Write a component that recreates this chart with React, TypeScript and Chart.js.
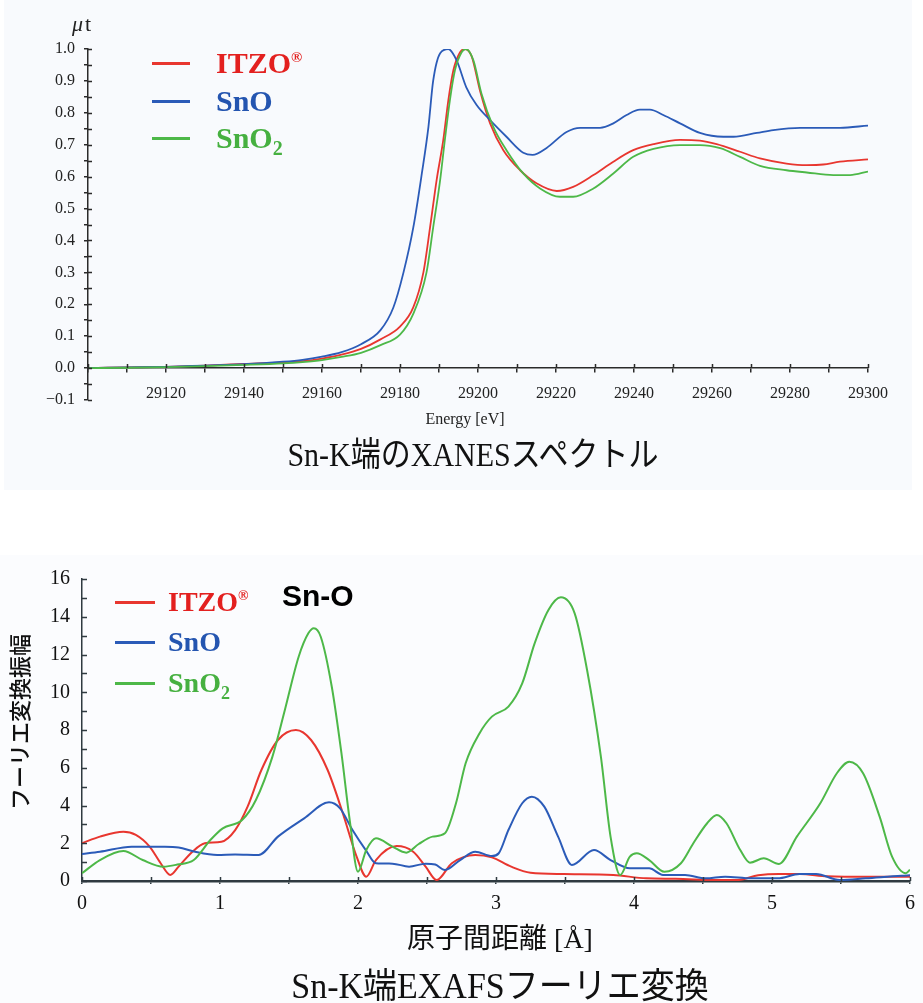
import React, { useEffect, useRef } from 'react';
import { Chart, registerables } from 'chart.js';

Chart.register(...registerables);

// ---------- XANES (Sn-K edge) : [energy eV, μt] ----------
const xanesITZO: [number, number][] = [
  [29100, 0.0], [29110, 0.002], [29120, 0.004], [29130, 0.008], [29140, 0.013], [29150, 0.018],
  [29155, 0.022], [29160, 0.03], [29165, 0.042], [29170, 0.06], [29175, 0.09], [29180, 0.13],
  [29183.4, 0.19], [29186, 0.3], [29187.7, 0.44], [29189.4, 0.59], [29191.1, 0.715], [29192.4, 0.84],
  [29193.7, 0.934], [29195.4, 0.99], [29196.7, 1.0], [29198.4, 0.976], [29200.5, 0.87], [29203.1, 0.767],
  [29206.5, 0.683], [29210.8, 0.62], [29215, 0.579], [29220.2, 0.555], [29224.4, 0.568], [29229.6, 0.605],
  [29234.7, 0.647], [29239.8, 0.683], [29245, 0.702], [29251.8, 0.715], [29256.9, 0.713], [29261.2, 0.702],
  [29267.2, 0.678], [29272.3, 0.657], [29279.1, 0.641], [29284.3, 0.636], [29288.5, 0.638], [29292.8, 0.647],
  [29300, 0.654],
];
const xanesSnO: [number, number][] = [
  [29100, 0.0], [29110, 0.002], [29120, 0.004], [29130, 0.008], [29140, 0.012], [29150, 0.02],
  [29155, 0.026], [29160, 0.036], [29165, 0.05], [29170, 0.075], [29175, 0.119], [29178.3, 0.19],
  [29180.9, 0.3], [29183.4, 0.44], [29185.6, 0.61], [29187.3, 0.757], [29188.5, 0.9], [29190.3, 0.987],
  [29192.4, 1.0], [29194.5, 0.965], [29197, 0.88], [29199.6, 0.825], [29203.1, 0.777], [29207.3, 0.725],
  [29211.6, 0.675], [29214, 0.668], [29217.6, 0.69], [29222.7, 0.74], [29226.2, 0.753], [29231.3, 0.753],
  [29234.7, 0.767], [29238.1, 0.793], [29241.5, 0.81], [29244.1, 0.81], [29247.5, 0.793], [29251.8, 0.767],
  [29256.9, 0.737], [29262.9, 0.725], [29265.5, 0.725], [29271.5, 0.737], [29275.7, 0.746], [29282.6, 0.753],
  [29292.8, 0.753], [29300, 0.76],
];
const xanesSnO2: [number, number][] = [
  [29100, 0.0], [29110, 0.001], [29120, 0.003], [29130, 0.006], [29140, 0.01], [29150, 0.015],
  [29155, 0.019], [29160, 0.025], [29165, 0.035], [29170, 0.048], [29175, 0.072], [29180, 0.105],
  [29183.4, 0.17], [29186.8, 0.3], [29188.5, 0.44], [29190.3, 0.59], [29191.5, 0.715], [29192.8, 0.84],
  [29194.1, 0.934], [29195.8, 0.99], [29196.9, 1.0], [29198.8, 0.965], [29200.9, 0.86], [29203.9, 0.757],
  [29207.3, 0.683], [29211.6, 0.61], [29215.9, 0.563], [29221, 0.537], [29224.4, 0.537], [29229.6, 0.563],
  [29234.7, 0.61], [29239.8, 0.662], [29245, 0.687], [29251.8, 0.699], [29256.9, 0.699], [29262.1, 0.689],
  [29267.2, 0.662], [29272.3, 0.634], [29279.1, 0.62], [29284.3, 0.613], [29291.1, 0.605], [29295.4, 0.605],
  [29300, 0.616],
];

// ---------- EXAFS Fourier transform : [distance Å, amplitude] ----------
const exafsITZO: [number, number][] = [
  [0, 2.0], [0.13, 2.35], [0.3, 2.61], [0.39, 2.44], [0.49, 1.82], [0.57, 0.94], [0.64, 0.32],
  [0.7, 0.76], [0.8, 1.55], [0.89, 2.0], [1.01, 2.08], [1.11, 2.7], [1.2, 3.94], [1.3, 5.88],
  [1.42, 7.47], [1.55, 8.0], [1.66, 7.47], [1.78, 5.88], [1.89, 3.59], [1.99, 1.29], [2.06, 0.23],
  [2.13, 1.11], [2.28, 1.85], [2.4, 1.55], [2.49, 0.76], [2.57, 0.05], [2.68, 0.94], [2.85, 1.38],
  [2.97, 1.25], [3.11, 0.76], [3.25, 0.44], [3.49, 0.37], [3.85, 0.32], [4.09, 0.14], [4.3, 0.12],
  [4.6, 0.05], [4.75, 0.05], [4.9, 0.3], [5.05, 0.37], [5.2, 0.37], [5.4, 0.25], [5.7, 0.22], [6.0, 0.23],
];
const exafsSnO: [number, number][] = [
  [0, 1.43], [0.13, 1.55], [0.36, 1.82], [0.6, 1.82], [0.7, 1.78], [0.82, 1.55], [0.98, 1.38],
  [1.11, 1.41], [1.28, 1.38], [1.42, 2.35], [1.61, 3.32], [1.79, 4.17], [1.87, 3.85], [1.96, 2.7],
  [2.06, 1.6], [2.13, 0.94], [2.25, 0.92], [2.37, 0.76], [2.49, 0.92], [2.56, 0.87], [2.63, 0.58],
  [2.74, 1.11], [2.85, 1.55], [2.97, 1.32], [3.02, 1.47], [3.09, 2.7], [3.19, 4.12], [3.26, 4.47],
  [3.35, 3.94], [3.45, 2.35], [3.55, 0.85], [3.71, 1.64], [3.83, 1.11], [3.97, 0.67], [4.11, 0.67],
  [4.21, 0.32], [4.37, 0.32], [4.52, 0.14], [4.66, 0.23], [4.85, 0.14], [5.04, 0.14], [5.2, 0.37],
  [5.32, 0.37], [5.49, 0.05], [5.68, 0.14], [5.94, 0.28], [6.0, 0.3],
];
const exafsSnO2: [number, number][] = [
  [0, 0.41], [0.13, 1.11], [0.3, 1.59], [0.44, 1.11], [0.59, 0.76], [0.69, 0.87], [0.81, 1.11],
  [0.93, 2.17], [1.02, 2.79], [1.16, 3.23], [1.26, 4.29], [1.38, 6.59], [1.47, 9.06], [1.57, 11.88],
  [1.64, 13.12], [1.68, 13.39], [1.73, 12.94], [1.81, 10.29], [1.88, 6.77], [1.94, 3.23], [2.0, 0.49],
  [2.06, 1.64], [2.13, 2.26], [2.25, 1.82], [2.35, 1.5], [2.44, 1.96], [2.54, 2.35], [2.63, 2.53],
  [2.71, 4.12], [2.78, 6.24], [2.88, 7.82], [2.97, 8.71], [3.09, 9.24], [3.19, 10.47], [3.28, 12.59],
  [3.38, 14.36], [3.47, 15.03], [3.57, 14.18], [3.66, 11.18], [3.76, 6.59], [3.83, 2.35], [3.9, 0.32],
  [3.97, 1.29], [4.02, 1.47], [4.11, 1.11], [4.22, 0.49], [4.34, 0.94], [4.43, 2.0], [4.53, 3.06],
  [4.6, 3.5], [4.67, 3.06], [4.77, 1.64], [4.84, 0.97], [4.94, 1.2], [5.05, 0.9], [5.18, 2.35],
  [5.35, 4.12], [5.47, 5.71], [5.56, 6.32], [5.66, 5.71], [5.78, 3.41], [5.87, 1.29], [5.97, 0.41],
  [6.0, 0.6],
];

// ---------- tick labels ----------
const xanesXLabels = [29120, 29140, 29160, 29180, 29200, 29220, 29240, 29260, 29280, 29300];
const xanesYLabels = [-0.1, 0.0, 0.1, 0.2, 0.3, 0.4, 0.5, 0.6, 0.7, 0.8, 0.9, 1.0];
const exafsXLabels = [0, 1, 2, 3, 4, 5, 6];
const exafsYLabels = [0, 2, 4, 6, 8, 10, 12, 14, 16];

const COLORS = { itzo: '#e8362f', sno: '#2b5bb8', sno2: '#4db848' };
const TEXT_COLORS = { itzo: '#e3201f', sno: '#2455b0', sno2: '#46b040' };
const AXIS = '#2a2a2a';
const SERIF = "'Liberation Serif', 'Times New Roman', serif";
const MIXED = "'Liberation Serif', 'Noto Sans CJK JP', serif";

const near = (list: number[], v: number) => list.some((l) => Math.abs(l - v) < 1e-6);

const innerTicks = {
  id: 'innerTicks',
  afterDatasetsDraw(chart: any, _args: any, opts: any) {
    const { ctx, chartArea, scales } = chart;
    const xs = scales.x;
    const ys = scales.y;
    ctx.save();
    ctx.strokeStyle = opts.color;
    ctx.lineWidth = opts.width;
    const axisY = opts.xAxisAtZero ? ys.getPixelForValue(0) : chartArea.bottom;
    ctx.beginPath();
    for (const t of ys.ticks) {
      const py = Math.round(ys.getPixelForValue(t.value)) + 0.5;
      ctx.moveTo(chartArea.left, py);
      ctx.lineTo(chartArea.left + opts.yLen, py);
    }
    for (const t of xs.ticks) {
      const px = Math.round(xs.getPixelForValue(t.value)) + 0.5;
      ctx.moveTo(px, axisY);
      ctx.lineTo(px, axisY - opts.xLen);
    }
    ctx.stroke();
    ctx.restore();
  },
};

const toXY = (arr: [number, number][]) => arr.map(([x, y]) => ({ x, y }));
const ds = (data: [number, number][], color: string, width: number) => ({
  data: toXY(data),
  borderColor: color,
  backgroundColor: color,
  borderWidth: width,
  pointRadius: 0,
  fill: false,
  cubicInterpolationMode: 'monotone' as const,
});

function LegendRow({ top, left, lineLeft, lineWidth, color, textColor, size, children }: any) {
  return (
    <>
      <div style={{ position: 'absolute', left: lineLeft, top: top - 1.5, width: lineWidth, height: 3, background: color }} />
      <div
        style={{
          position: 'absolute', left, top: top - size * 0.6, height: size * 1.2, lineHeight: `${size * 1.2}px`,
          fontFamily: SERIF, fontWeight: 'bold', fontSize: size, color: textColor, whiteSpace: 'nowrap',
        }}
      >
        {children}
      </div>
    </>
  );
}

export default function App() {
  const xanesRef = useRef<HTMLCanvasElement>(null);
  const exafsRef = useRef<HTMLCanvasElement>(null);

  useEffect(() => {
    const c1 = new Chart(xanesRef.current!, {
      type: 'line',
      data: {
        datasets: [
          ds(xanesSnO2, COLORS.sno2, 1.8),
          ds(xanesSnO, COLORS.sno, 1.8),
          ds(xanesITZO, COLORS.itzo, 1.8),
        ],
      },
      plugins: [innerTicks],
      options: {
        responsive: false,
        animation: false,
        events: [],
        layout: { autoPadding: false, padding: { top: 49, right: 55, bottom: 90, left: 0 } },
        plugins: {
          legend: { display: false },
          tooltip: { enabled: false },
          innerTicks: { color: AXIS, width: 1.5, yLen: 4, xLen: 4, xAxisAtZero: true },
        } as any,
        scales: {
          x: {
            type: 'linear',
            position: { y: 0 } as any,
            min: 29100,
            max: 29300,
            afterFit: (s: any) => { s.height = 0; },
            border: { display: true, color: AXIS, width: 1.5 },
            grid: { display: true, drawOnChartArea: false, drawTicks: true, tickLength: 4, color: AXIS, lineWidth: 1.5 },
            ticks: {
              stepSize: 10,
              maxTicksLimit: 1000,
              autoSkip: false,
              maxRotation: 0,
              padding: 12,
              color: '#222',
              font: { family: SERIF, size: 16 },
              callback: (v: any) => (near(xanesXLabels, Number(v)) ? String(v) : ''),
            },
          },
          y: {
            type: 'linear',
            min: -0.1,
            max: 1.0,
            afterFit: (s: any) => { s.width = 88; },
            border: { display: true, color: AXIS, width: 1.5 },
            grid: { display: true, drawOnChartArea: false, drawTicks: true, tickLength: 4, color: AXIS, lineWidth: 1.5 },
            ticks: {
              stepSize: 0.05,
              maxTicksLimit: 1000,
              autoSkip: false,
              padding: 9,
              color: '#222',
              font: { family: SERIF, size: 16 },
              callback: (v: any) => {
                const n = Number(v);
                if (!near(xanesYLabels, n)) return '';
                const s = Math.abs(n).toFixed(1);
                return n < -1e-9 ? '\u2212' + s : s;
              },
            },
          },
        },
      },
    });

    const c2 = new Chart(exafsRef.current!, {
      type: 'line',
      data: {
        datasets: [
          ds(exafsSnO2, COLORS.sno2, 2),
          ds(exafsSnO, COLORS.sno, 2),
          ds(exafsITZO, COLORS.itzo, 2),
        ],
      },
      plugins: [innerTicks],
      options: {
        responsive: false,
        animation: false,
        events: [],
        layout: { autoPadding: false, padding: { top: 24, right: 3, bottom: 0, left: 0 } },
        plugins: {
          legend: { display: false },
          tooltip: { enabled: false },
          innerTicks: { color: '#2f3a40', width: 1.5, yLen: 5, xLen: 4, xAxisAtZero: false },
        } as any,
        scales: {
          x: {
            type: 'linear',
            position: 'bottom',
            min: 0,
            max: 6,
            afterFit: (s: any) => { s.height = 122; },
            border: { display: true, color: '#2f3a40', width: 2.5 },
            grid: { display: true, drawOnChartArea: false, drawTicks: true, tickLength: 3, color: '#2f3a40', lineWidth: 1.5 },
            ticks: {
              stepSize: 0.5,
              maxTicksLimit: 1000,
              autoSkip: false,
              maxRotation: 0,
              padding: 8,
              color: '#111',
              font: { family: SERIF, size: 20 },
              callback: (v: any) => (near(exafsXLabels, Number(v)) ? String(v) : ''),
            },
          },
          y: {
            type: 'linear',
            min: 0,
            max: 16,
            afterFit: (s: any) => { s.width = 82; },
            border: { display: true, color: '#2f3a40', width: 1.5 },
            grid: { display: false, drawOnChartArea: false, drawTicks: false },
            ticks: {
              stepSize: 1,
              maxTicksLimit: 1000,
              autoSkip: false,
              padding: 12,
              color: '#111',
              font: { family: SERIF, size: 20 },
              callback: (v: any) => (near(exafsYLabels, Number(v)) ? String(v) : ''),
            },
          },
        },
      },
    });

    return () => {
      c1.destroy();
      c2.destroy();
    };
  }, []);

  return (
    <div style={{ position: 'absolute', left: 0, top: 0, width: 923, height: 1003, background: '#ffffff', overflow: 'hidden' }}>
      <div style={{ position: 'absolute', left: 4, top: 0, width: 908, height: 490, background: '#f8fafd' }} />
      <div style={{ position: 'absolute', left: 0, top: 555, width: 923, height: 448, background: '#fbfcfe' }} />
      <canvas ref={xanesRef} width={923} height={490} style={{ position: 'absolute', left: 0, top: 0 }} />
      <canvas ref={exafsRef} width={923} height={448} style={{ position: 'absolute', left: 0, top: 555 }} />

      {/* XANES annotations */}
      <div style={{ position: 'absolute', left: 72, top: 11, fontFamily: SERIF, fontSize: 22, color: '#222', lineHeight: '26px', whiteSpace: 'nowrap' }}>
        <i>μ</i>&#8202;t
      </div>
      <LegendRow top={63} left={216} lineLeft={152} lineWidth={38} color={COLORS.itzo} textColor={TEXT_COLORS.itzo} size={30}>
        ITZO<sup style={{ fontSize: 15, verticalAlign: 'top', position: 'relative', top: -6 }}>®</sup>
      </LegendRow>
      <LegendRow top={101} left={216} lineLeft={152} lineWidth={38} color={COLORS.sno} textColor={TEXT_COLORS.sno} size={30}>
        SnO
      </LegendRow>
      <LegendRow top={138} left={216} lineLeft={152} lineWidth={38} color={COLORS.sno2} textColor={TEXT_COLORS.sno2} size={30}>
        SnO<sub style={{ fontSize: 20, verticalAlign: 'baseline', position: 'relative', top: 7 }}>2</sub>
      </LegendRow>
      <div style={{ position: 'absolute', left: 365, top: 408, width: 200, textAlign: 'center', fontFamily: SERIF, fontSize: 16, lineHeight: '22px', color: '#222' }}>
        Energy [eV]
      </div>
      <div style={{ position: 'absolute', left: 173, top: 436, width: 600, textAlign: 'center', fontFamily: MIXED, fontSize: 30, lineHeight: '38px', color: '#111', transform: 'scaleY(1.12)' }}>
        Sn-K端のXANESスペクトル
      </div>

      {/* EXAFS annotations */}
      <LegendRow top={602} left={168} lineLeft={115} lineWidth={40} color={COLORS.itzo} textColor={TEXT_COLORS.itzo} size={28}>
        ITZO<sup style={{ fontSize: 14, verticalAlign: 'top', position: 'relative', top: -6 }}>®</sup>
      </LegendRow>
      <LegendRow top={642} left={168} lineLeft={115} lineWidth={40} color={COLORS.sno} textColor={TEXT_COLORS.sno} size={28}>
        SnO
      </LegendRow>
      <LegendRow top={683} left={168} lineLeft={115} lineWidth={40} color={COLORS.sno2} textColor={TEXT_COLORS.sno2} size={28}>
        SnO<sub style={{ fontSize: 18, verticalAlign: 'baseline', position: 'relative', top: 7 }}>2</sub>
      </LegendRow>
      <div style={{ position: 'absolute', left: 282, top: 578, fontFamily: "'Liberation Sans', Arial, sans-serif", fontWeight: 'bold', fontSize: 30, lineHeight: '36px', color: '#000' }}>
        Sn-O
      </div>
      <div
        style={{
          position: 'absolute', left: 17.5 - 100, top: 722 - 15, width: 200, height: 30, lineHeight: '30px', textAlign: 'center',
          transform: 'rotate(-90deg)', fontFamily: "'Noto Sans CJK JP', sans-serif", fontWeight: 500, fontSize: 22, color: '#111',
        }}
      >
        フーリエ変換振幅
      </div>
      <div style={{ position: 'absolute', left: 300, top: 921, width: 400, textAlign: 'center', fontFamily: MIXED, fontSize: 28, lineHeight: '36px', color: '#111' }}>
        原子間距離 [Å]
      </div>
      <div style={{ position: 'absolute', left: 150, top: 965, width: 700, textAlign: 'center', fontFamily: MIXED, fontSize: 34, lineHeight: '42px', color: '#111', transform: 'scaleY(1.05)' }}>
        Sn-K端EXAFSフーリエ変換
      </div>
    </div>
  );
}
